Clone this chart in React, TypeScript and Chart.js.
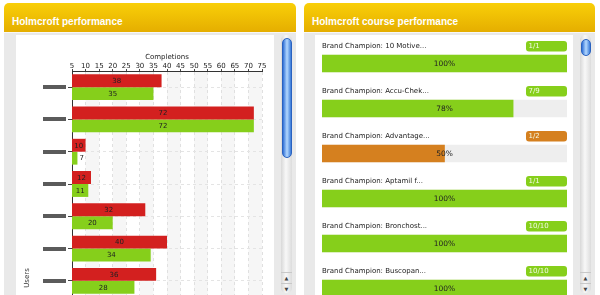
import React, { useEffect, useRef } from "react";
import { Chart, registerables } from "chart.js";

Chart.register(...registerables);

// ---------- Data ----------
const userLabels = ["User 1", "User 2", "User 3", "User 4", "User 5", "User 6", "User 7"];
const redSeries = [38, 72, 10, 12, 32, 40, 36];
const greenSeries = [35, 72, 7, 11, 20, 34, 28];
const xAxisMin = 5;
const xAxisMax = 75;
const xAxisStep = 5;

const courseNames = [
  "Brand Champion: 10 Motive...",
  "Brand Champion: Accu-Chek...",
  "Brand Champion: Advantage...",
  "Brand Champion: Aptamil f...",
  "Brand Champion: Bronchost...",
  "Brand Champion: Buscopan...",
];
const coursePercent = [100, 78, 50, 100, 100, 100];
const courseDone = [1, 7, 1, 1, 10, 10];
const courseTotal = [1, 9, 2, 1, 10, 10];

// ---------- Styles ----------
const RED = "#d3201f";
const GREEN = "#86cf1b";
const ORANGE = "#d5801f";
const TRACK = "#eeeeee";
const FONT = "DejaVu Sans";

function PerformanceChart() {
  const ref = useRef<HTMLCanvasElement>(null);
  useEffect(() => {
    const canvas = ref.current;
    if (!canvas) return;

    const bands = {
      id: "bands",
      beforeDraw(chart: any) {
        const { ctx, chartArea: a } = chart;
        const x = chart.scales.x;
        ctx.save();
        ctx.fillStyle = "#f6f6f6";
        for (let v = xAxisMin + xAxisStep; v < xAxisMax; v += 2 * xAxisStep) {
          const x0 = x.getPixelForValue(v);
          const x1 = x.getPixelForValue(Math.min(v + xAxisStep, xAxisMax));
          ctx.fillRect(x0, a.top, x1 - x0, a.bottom - a.top);
        }
        ctx.restore();
      },
    };

    const decorations = {
      id: "decorations",
      afterDraw(chart: any) {
        const { ctx, chartArea: a } = chart;
        const y = chart.scales.y;
        ctx.save();
        ctx.fillStyle = "#5b5b5b";
        userLabels.forEach((_, i) => {
          const py = y.getPixelForValue(i);
          ctx.fillRect(a.left - 29, Math.round(py) - 2, 23, 4);
        });
        ctx.fillStyle = "#333";
        ctx.font = `7px "${FONT}"`;
        ctx.textAlign = "center";
        ctx.textBaseline = "middle";
        ctx.translate(11, 243);
        ctx.rotate(-Math.PI / 2);
        ctx.fillText("Users", 0, 0);
        ctx.restore();
      },
    };

    const valueLabels = {
      id: "valueLabels",
      afterDatasetsDraw(chart: any) {
        const { ctx, chartArea: a } = chart;
        ctx.save();
        ctx.font = `7px "${FONT}"`;
        ctx.fillStyle = "#222";
        ctx.textBaseline = "middle";
        chart.data.datasets.forEach((ds: any, di: number) => {
          chart.getDatasetMeta(di).data.forEach((bar: any, i: number) => {
            const props = bar.getProps(["x", "y", "base"], true);
            const x = props.x;
            const y = props.y;
            const base = Math.max(props.base, a.left);
            const txt = String(ds.data[i]);
            const w = ctx.measureText(txt).width;
            if (x - base > w + 3) {
              ctx.textAlign = "center";
              ctx.fillText(txt, (x + base) / 2, y + 0.5);
            } else {
              ctx.textAlign = "left";
              ctx.fillText(txt, x + 2, y + 0.5);
            }
          });
        });
        ctx.restore();
      },
    };

    const chart = new Chart(canvas, {
      type: "bar",
      data: {
        labels: userLabels,
        datasets: [
          { data: redSeries, backgroundColor: RED, borderWidth: 0 },
          { data: greenSeries, backgroundColor: GREEN, borderWidth: 0 },
        ],
      },
      options: {
        indexAxis: "y",
        animation: false,
        responsive: false,
        devicePixelRatio: 1,
        layout: { padding: { left: 0, right: 16, top: 0, bottom: 38 } },
        plugins: { legend: { display: false }, tooltip: { enabled: false } },
        datasets: { bar: { categoryPercentage: 0.8, barPercentage: 1.0 } },
        scales: {
          x: {
            position: "top",
            min: xAxisMin,
            max: xAxisMax,
            afterFit: (s: any) => {
              s.height = 36;
            },
            ticks: {
              stepSize: xAxisStep,
              padding: -1,
              color: "#222",
              font: { family: FONT, size: 7 },
              maxRotation: 0,
            },
            title: {
              display: true,
              text: "Completions",
              color: "#222",
              font: { family: FONT, size: 7 },
              padding: { top: 18, bottom: 0 },
            },
            grid: {
              color: "#e0e0e0",
              tickColor: "#444",
              tickLength: 2,
              tickBorderDash: [],
            },
            border: { color: "#333", dash: [3, 3] },
          },
          y: {
            afterFit: (s: any) => {
              s.width = 56;
            },
            ticks: { callback: () => "", font: { family: FONT, size: 7 } },
            grid: {
              offset: false,
              color: "#e4e4e4",
              tickColor: "#444",
              tickLength: 4,
              tickBorderDash: [],
            },
            border: { color: "#333", dash: [3, 3] },
          },
        },
      },
      plugins: [bands, decorations, valueLabels],
    } as any);
    return () => chart.destroy();
  }, []);
  return (
    <canvas
      ref={ref}
      width={262}
      height={300}
      style={{ position: "absolute", left: 16, top: 35, width: 262, height: 300 }}
    />
  );
}

function CourseChart() {
  const ref = useRef<HTMLCanvasElement>(null);
  useEffect(() => {
    const canvas = ref.current;
    if (!canvas) return;
    const colorFor = (p: number) => (p >= 75 ? GREEN : ORANGE);

    const labels = {
      id: "courseLabels",
      afterDatasetsDraw(chart: any) {
        const { ctx, chartArea: a } = chart;
        const y = chart.scales.y;
        ctx.save();
        ctx.textBaseline = "middle";
        courseNames.forEach((name, i) => {
          const py = y.getPixelForValue(i);
          ctx.font = `7px "${FONT}"`;
          ctx.fillStyle = "#222";
          ctx.textAlign = "left";
          ctx.fillText(name, a.left, py - 17.5);
          const bx = a.right - 41;
          const by = py - 22.5;
          ctx.fillStyle = colorFor(coursePercent[i]);
          ctx.beginPath();
          (ctx as any).roundRect(bx, by, 41, 10.5, 3);
          ctx.fill();
          ctx.fillStyle = "#f3fae6";
          ctx.fillText(`${courseDone[i]}/${courseTotal[i]}`, bx + 2.5, by + 5.5);
          ctx.font = `7.5px "${FONT}"`;
          ctx.fillStyle = "#222";
          ctx.textAlign = "center";
          ctx.fillText(`${coursePercent[i]}%`, (a.left + a.right) / 2, py + 0.5);
        });
        ctx.restore();
      },
    };

    const chart = new Chart(canvas, {
      type: "bar",
      data: {
        labels: courseNames,
        datasets: [
          {
            data: coursePercent,
            backgroundColor: coursePercent.map(colorFor),
            borderWidth: 0,
            grouped: false,
            order: 0,
            barThickness: 17,
          },
          {
            data: coursePercent.map(() => 100),
            backgroundColor: TRACK,
            borderWidth: 0,
            grouped: false,
            order: 1,
            barThickness: 17,
          },
        ],
      },
      options: {
        indexAxis: "y",
        animation: false,
        responsive: false,
        devicePixelRatio: 1,
        layout: { padding: { left: 7, right: 6, top: 6, bottom: 24 } },
        plugins: { legend: { display: false }, tooltip: { enabled: false } },
        scales: {
          x: { display: false, min: 0, max: 100 },
          y: { display: false },
        },
      },
      plugins: [labels],
    } as any);
    return () => chart.destroy();
  }, []);
  return (
    <canvas
      ref={ref}
      width={258}
      height={300}
      style={{ position: "absolute", left: 315, top: 35, width: 258, height: 300 }}
    />
  );
}

function Panel(props: {
  x: number;
  w: number;
  title: string;
  thumbTop: number;
  thumbHeight: number;
  contentLeft: number;
  trackLeft: number;
}) {
  const { x, w, title, thumbTop, thumbHeight, contentLeft, trackLeft } = props;
  return (
    <>
      <div
        style={{
          position: "absolute",
          left: x,
          top: 3,
          width: w,
          height: 29,
          borderRadius: "5px 5px 0 0",
          background: "linear-gradient(#f9cf08, #e5ae00)",
        }}
      />
      <div
        style={{
          position: "absolute",
          left: x + 8,
          top: 16,
          height: 13,
          lineHeight: "13px",
          font: 'bold 10px "Liberation Sans", Arial, sans-serif',
          color: "#fff",
          whiteSpace: "nowrap",
        }}
      >
        {title}
      </div>
      <div
        style={{
          position: "absolute",
          left: x,
          top: 32,
          width: w,
          height: 270,
          background: "#e9e9e9",
          borderTop: "1px solid #f7f7f7",
        }}
      />
      <div
        style={{
          position: "absolute",
          left: contentLeft,
          top: 35,
          width: 258,
          height: 265,
          background: "#fff",
        }}
      />
      <div
        style={{
          position: "absolute",
          left: trackLeft,
          top: 35,
          width: 11,
          height: 258,
          borderRadius: 5,
          background: "linear-gradient(to right, #d8d8d8, #f8f8f8 45%, #dcdcdc)",
        }}
      />
      <div
        style={{
          position: "absolute",
          left: trackLeft + 1,
          top: thumbTop,
          width: 8,
          height: thumbHeight,
          borderRadius: 5,
          border: "1px solid #2a62c0",
          background: "linear-gradient(to right, #2f6fd6, #b3d8ff 50%, #3a7ad8)",
        }}
      />
      <div
        style={{
          position: "absolute",
          left: trackLeft,
          top: 272,
          width: 11,
          height: 10,
          borderTop: "1px solid #c8c8c8",
          font: '5px "DejaVu Sans"',
          color: "#444",
          textAlign: "center",
          lineHeight: "10px",
        }}
      >
        ▲
      </div>
      <div
        style={{
          position: "absolute",
          left: trackLeft,
          top: 283,
          width: 11,
          height: 10,
          borderTop: "1px solid #c8c8c8",
          font: '5px "DejaVu Sans"',
          color: "#444",
          textAlign: "center",
          lineHeight: "10px",
        }}
      >
        ▼
      </div>
    </>
  );
}

export default function App() {
  return (
    <div
      style={{
        position: "fixed",
        left: 0,
        top: 0,
        width: 600,
        height: 295,
        overflow: "hidden",
        background: "#fff",
      }}
    >
      <Panel
        x={4}
        w={292}
        title="Holmcroft performance"
        thumbTop={38}
        thumbHeight={118}
        contentLeft={16}
        trackLeft={281}
      />
      <Panel
        x={304}
        w={291}
        title="Holmcroft course performance"
        thumbTop={39}
        thumbHeight={15}
        contentLeft={315}
        trackLeft={580}
      />
      <PerformanceChart />
      <CourseChart />
    </div>
  );
}
